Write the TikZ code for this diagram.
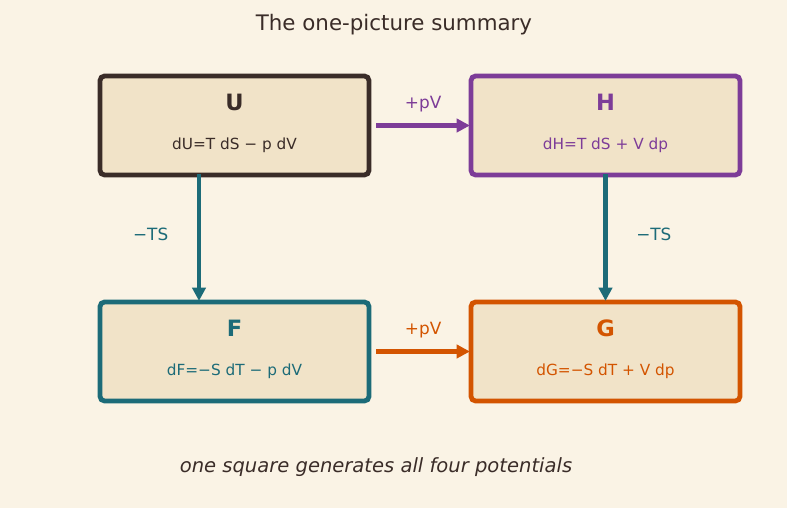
\documentclass[tikz,border=0pt]{standalone}
\usepackage{fontspec}
\setmainfont{DejaVu Sans}
\usetikzlibrary{arrows.meta}

\definecolor{paper}{HTML}{FAF3E5}
\definecolor{cardfill}{HTML}{F1E3C8}
\definecolor{ink}{HTML}{3A2C28}
\definecolor{plum}{HTML}{7D3C98}
\definecolor{tealc}{HTML}{1C6B78}
\definecolor{rust}{HTML}{D35400}

\begin{document}
\begin{tikzpicture}[>={Triangle[length=9.5pt,width=9.5pt]},
    card/.style={draw=#1, fill=cardfill, line width=3.4pt, rounded corners=3pt,
        minimum width=6.72cm, minimum height=2.47cm, inner sep=0pt},
    letter/.style={text=#1, font=\fontsize{16}{18}\selectfont\bfseries},
    eqn/.style={text=#1, font=\fontsize{10.9}{12}\selectfont},
    lbl/.style={text=#1, font=\fontsize{12}{14}\selectfont},
    arr/.style={draw=#1, line width=3pt, ->}]
\fill[paper] (0,0) rectangle (19.675,12.7);
\useasboundingbox (0,0) rectangle (19.675,12.7);

\node[text=ink, font=\fontsize{15.2}{18}\selectfont] (title) at (9.85,12.075) {The one-picture summary};

% the four potentials
\node[card=ink] (U) at (5.8625,9.5625) {};
\node[card=plum] (H) at (15.1375,9.5625) {};
\node[card=tealc] (F) at (5.8625,3.9125) {};
\node[card=rust] (G) at (15.1375,3.9125) {};

\node[letter=ink] (Ut) at ([yshift=.58cm]U.center) {U};
\node[eqn=ink] (Ue) at ([yshift=-.5cm]U.center) {dU=T dS − p dV};
\node[letter=plum] (Ht) at ([yshift=.58cm]H.center) {H};
\node[eqn=plum] (He) at ([yshift=-.5cm]H.center) {dH=T dS + V dp};
\node[letter=tealc] (Ft) at ([yshift=.58cm]F.center) {F};
\node[eqn=tealc] (Fe) at ([yshift=-.5cm]F.center) {dF=−S dT − p dV};
\node[letter=rust] (Gt) at ([yshift=.58cm]G.center) {G};
\node[eqn=rust] (Ge) at ([yshift=-.5cm]G.center) {dG=−S dT + V dp};

% transforms
\draw[arr=plum] ([xshift=.125cm]U.east) -- ([xshift=.03cm]H.west)
    node[lbl=plum, midway, above=.16cm] (pvU) {+pV};
\draw[arr=rust] ([xshift=.125cm]F.east) -- ([xshift=.03cm]G.west)
    node[lbl=rust, midway, above=.16cm] (pvF) {+pV};
\draw[arr=tealc] ([xshift=-.8875cm,yshift=.075cm]U.south) -- ([xshift=-.8875cm,yshift=-.03cm]F.north)
    node[lbl=tealc, midway, left=.6cm, yshift=.075cm] (tsU) {−TS};
\draw[arr=tealc] ([yshift=.075cm]H.south) -- ([yshift=-.03cm]G.north)
    node[lbl=tealc, midway, right=.6cm, yshift=.075cm] (tsH) {−TS};

\node[text=ink, font=\fontsize{13.9}{16}\selectfont\itshape] (foot) at (9.4,1.025) {one square generates all four potentials};
\end{tikzpicture}
\end{document}
